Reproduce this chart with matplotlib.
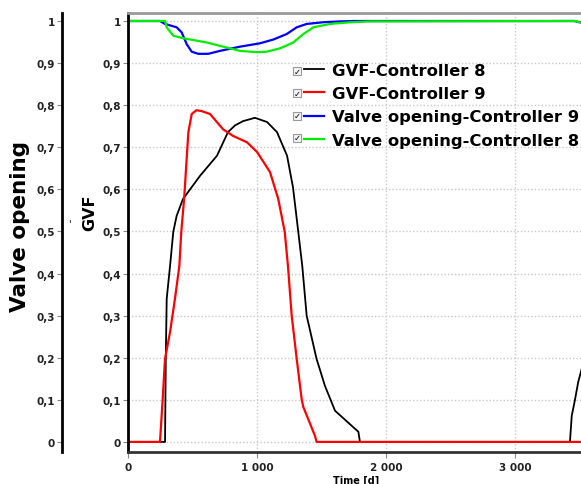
import numpy as np
import matplotlib
matplotlib.use("Agg")
import matplotlib.pyplot as plt
from matplotlib.patches import Rectangle
from matplotlib.ticker import FuncFormatter, MultipleLocator

# time axis [d] and series
t_gvf8 = [0, 287, 290, 293, 300, 326, 351, 377, 426, 558, 690, 775, 830, 891, 984, 1078,
          1155, 1233, 1279, 1320, 1351, 1385, 1462, 1527, 1605, 1786, 1798, 3426, 3440,
          3465, 3490, 3540]
gvf8 = [0, 0, 0.1, 0.2, 0.34, 0.418, 0.499, 0.537, 0.577, 0.632, 0.68, 0.736, 0.752, 0.762,
        0.77, 0.76, 0.736, 0.68, 0.605, 0.499, 0.418, 0.3, 0.197, 0.133, 0.074, 0.024, 0, 0,
        0.062, 0.1, 0.142, 0.2]

t_gvf9 = [0, 248, 269, 287, 326, 364, 398, 413, 435, 468, 494, 530, 570, 636, 736, 814, 922,
          1000, 1101, 1165, 1215, 1240, 1269, 1308, 1346, 1359, 1450, 1462, 3540]
gvf9 = [0, 0, 0.102, 0.197, 0.261, 0.34, 0.418, 0.499, 0.577, 0.736, 0.779, 0.788, 0.786,
        0.779, 0.743, 0.727, 0.712, 0.689, 0.641, 0.577, 0.499, 0.418, 0.3, 0.197, 0.102,
        0.083, 0.014, 0, 0]

t_valve9 = [0, 248, 287, 377, 416, 455, 494, 545, 622, 713, 868, 1023, 1127, 1230, 1308,
            1385, 1512, 1643, 1760, 3460, 3500, 3540]
valve9 = [1, 1, 0.993, 0.985, 0.973, 0.945, 0.927, 0.922, 0.922, 0.929, 0.939, 0.947, 0.956,
          0.969, 0.985, 0.993, 0.997, 0.999, 1, 1, 0.997, 0.996]

t_valve8 = [0, 287, 300, 351, 429, 610, 764, 868, 998, 1075, 1178, 1282, 1359, 1437, 1566,
            1721, 1876, 3470, 3510, 3540]
valve8 = [1, 1, 0.985, 0.965, 0.959, 0.949, 0.937, 0.929, 0.926, 0.927, 0.935, 0.949, 0.969,
          0.985, 0.993, 0.997, 0.999, 1, 0.996, 0.995]

labels = ["GVF-Controller 8", "GVF-Controller 9",
          "Valve opening-Controller 9", "Valve opening-Controller 8"]
colors = ["black", "#ff0000", "#0000ff", "#00ee00"]

W, H = 581, 485
fig = plt.figure(figsize=(W / 100, H / 100), dpi=100)


def fx(px):
    return px / W


def fy(py):
    return 1 - py / H


def yfmt(v, pos):
    if abs(v) < 1e-9:
        return "0"
    if abs(v - 1) < 1e-9:
        return "1"
    return f"{v:.1f}".replace(".", ",")


def xfmt(v, pos):
    return f"{int(round(v)):,}".replace(",", " ")


ylim = (-0.024, 1.019)
tick_font = dict(fontsize=7.5, fontweight="bold", color="#222222")

# main axes (runs slightly past the right edge, as in the original)
ax = fig.add_axes([fx(128), 1 - 453 / H, (584 - 128) / W, (453 - 14) / H])
ax.set_xlim(0, 3535)
ax.set_ylim(*ylim)
ax.yaxis.set_major_locator(MultipleLocator(0.1))
ax.xaxis.set_major_locator(MultipleLocator(1000))
ax.yaxis.set_major_formatter(FuncFormatter(yfmt))
ax.xaxis.set_major_formatter(FuncFormatter(xfmt))
ax.grid(True, color="#c8c8c8", linestyle=(0, (1, 1.5)), linewidth=1)
ax.set_axisbelow(True)
for lab in ax.get_xticklabels() + ax.get_yticklabels():
    lab.set(**tick_font)
ax.tick_params(axis="y", length=3.5, color="#888888", pad=1.5)
ax.tick_params(axis="x", length=4, color="#888888", pad=3)
ax.spines["left"].set(linewidth=2, color="black")
ax.spines["bottom"].set(linewidth=2, color="#333333")
ax.spines["top"].set(linewidth=2, color="#999999")
ax.spines["right"].set_visible(False)

h1, = ax.plot(t_gvf8, gvf8, color=colors[0], lw=1.3)
h2, = ax.plot(t_gvf9, gvf9, color=colors[1], lw=1.6)
h3, = ax.plot(t_valve9, valve9, color=colors[2], lw=1.6)
h4, = ax.plot(t_valve8, valve8, color=colors[3], lw=1.6)

ax.set_xlabel("Time [d]", fontsize=7, fontweight="bold")
ax.xaxis.set_label_coords((356 - 128) / (584 - 128), -0.052)

leg = ax.legend([h1, h2, h3, h4], labels, loc="upper left",
                bbox_to_anchor=(fx(304), fy(64)), bbox_transform=fig.transFigure,
                frameon=False, borderpad=0, borderaxespad=0, handlelength=1.2,
                handletextpad=0.5, labelspacing=0.5,
                prop=dict(size=11.8, weight="bold"))
# check boxes in front of each legend entry
for k in range(4):
    yc = 72 + 22.3 * k
    fig.patches.append(Rectangle((fx(293), fy(yc + 4)), 8 / W, 8 / H,
                                 transform=fig.transFigure, facecolor="#f4f4f4",
                                 edgecolor="#999999", linewidth=0.8))
    fig.text(fx(297), fy(yc), "\u2713", fontsize=6, fontweight="bold", color="black",
             ha="center", va="center")

# left axis for the valve opening
ax2 = fig.add_axes([fx(62), 1 - 453 / H, 0.001, (453 - 14) / H])
ax2.set_ylim(*ylim)
ax2.set_xticks([])
ax2.yaxis.set_major_locator(MultipleLocator(0.1))
ax2.yaxis.set_major_formatter(FuncFormatter(yfmt))
for lab in ax2.get_yticklabels():
    lab.set(**tick_font)
ax2.tick_params(axis="y", length=3.5, color="#888888", pad=1.5)
for s in ["top", "right", "bottom"]:
    ax2.spines[s].set_visible(False)
ax2.spines["left"].set(linewidth=2, color="black")
ax2.patch.set_visible(False)

fig.text(fx(20), fy(227), "Valve opening", rotation=90, fontsize=15.5,
         fontweight="bold", ha="center", va="center")
fig.text(fx(90), fy(213), "GVF", rotation=90, fontsize=11.5,
         fontweight="bold", ha="center", va="center")
fig.text(fx(70), fy(224), "'", fontsize=7, fontweight="bold", color="#555555",
         ha="center", va="center")

fig.savefig("out.png", dpi=100)
